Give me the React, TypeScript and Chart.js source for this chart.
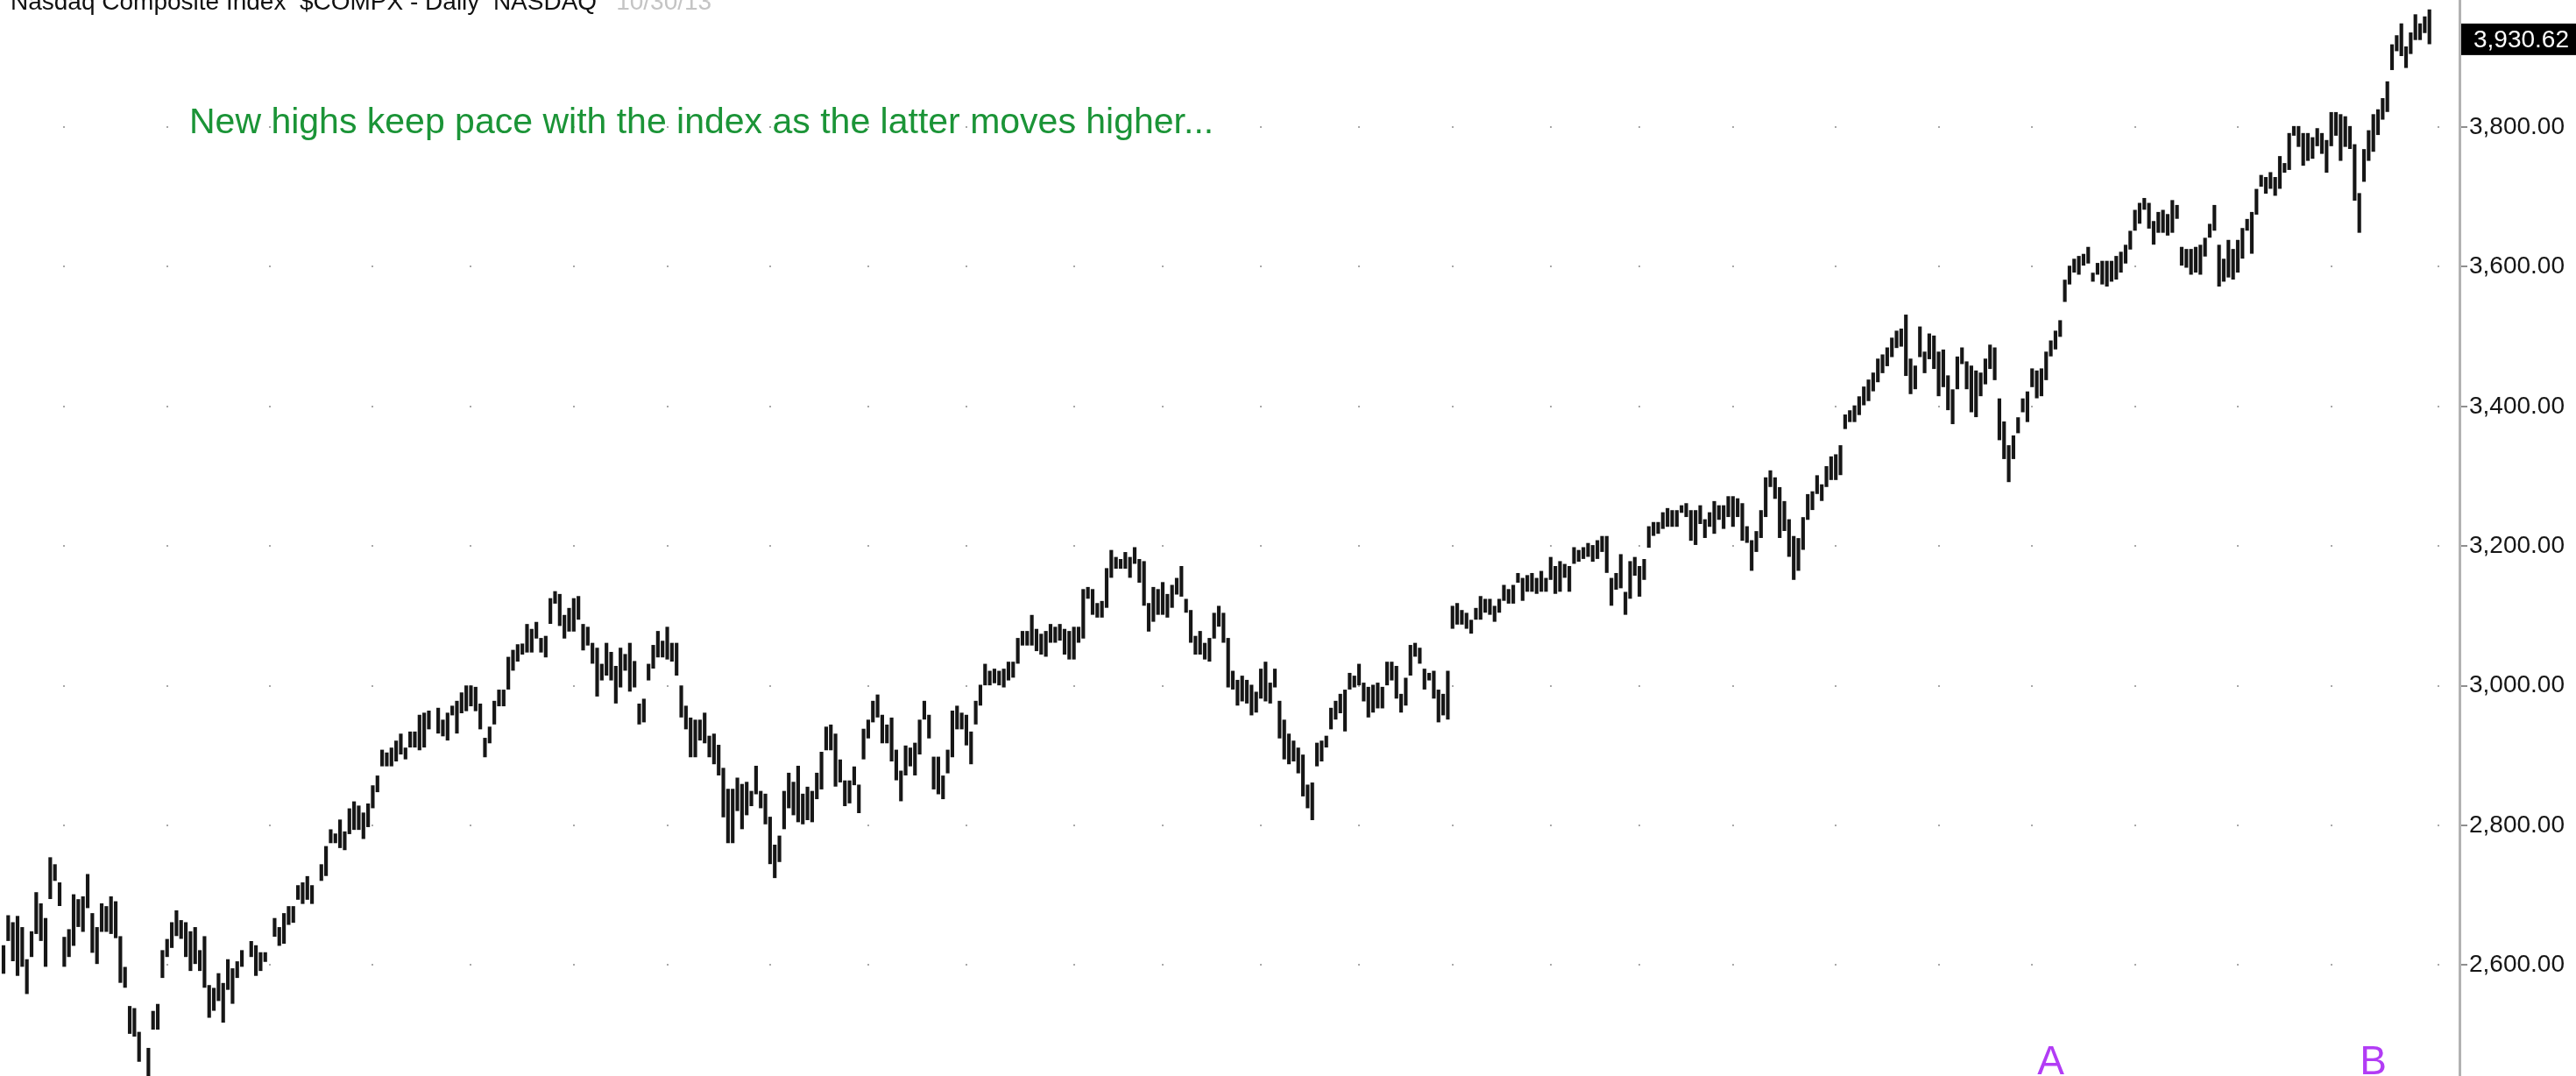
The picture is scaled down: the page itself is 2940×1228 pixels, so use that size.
import React, { useEffect, useRef } from 'react';
import { Chart, registerables } from 'chart.js';

Chart.register(...registerables);

// Daily high-low bars, one slot per trading day (null = empty slot in the reference)
const barLow: (number | null)[] = [
  2588, 2635, 2606, 2585, 2598, 2559, 2612, 2645, 2635, 2598,
  2695, 2721, 2685, 2598, 2612, 2628, 2655, 2648, 2682, 2618,
  2602, 2648, 2648, 2645, 2639, 2575, 2568, 2502, 2498, 2462,
  null, 2430, 2508, 2508, 2582, 2612, 2625, 2642, 2638, 2612,
  2592, 2602, 2592, 2568, 2525, 2535, 2549, 2518, 2565, 2545,
  2582, 2598, null, 2612, 2585, 2592, 2605, null, 2641, 2628,
  2631, 2658, 2661, 2694, 2688, 2694, 2688, null, 2721, 2728,
  2775, 2775, 2768, 2765, 2788, 2794, 2794, 2781, 2798, 2825,
  2848, 2885, 2885, 2885, 2892, 2902, 2895, 2912, 2912, 2908,
  2912, 2938, null, 2932, 2928, 2922, 2958, 2932, 2961, 2964,
  2971, 2964, 2938, 2898, 2918, 2945, 2971, 2971, 2995, 3022,
  3035, 3045, 3048, 3048, 3068, 3048, 3041, 3089, 3118, 3086,
  3068, 3078, 3078, 3095, 3051, 3058, 3032, 2985, 3008, 3015,
  3008, 2975, 2998, 3022, 2992, 2998, 2945, 2948, 3008, 3025,
  3041, 3041, 3038, 3035, 3015, 2955, 2938, 2898, 2898, 2922,
  2918, 2898, 2888, 2872, 2812, 2775, 2775, 2821, 2795, 2815,
  2828, 2845, 2825, 2802, 2745, 2725, 2748, 2795, 2825, 2815,
  2805, 2802, 2808, 2805, 2838, 2852, 2908, 2908, 2856, 2862,
  2828, 2832, 2858, 2818, 2895, 2925, 2948, 2955, 2918, 2918,
  2892, 2865, 2835, 2872, 2885, 2872, 2902, 2952, 2925, 2852,
  2845, 2838, 2875, 2898, 2938, 2938, 2915, 2888, 2945, 2972,
  3001, 3001, 3004, 3001, 2998, 3008, 3012, 3032, 3058, 3058,
  3058, 3050, 3045, 3042, 3062, 3062, 3065, 3045, 3038, 3038,
  3062, 3068, 3125, 3102, 3098, 3098, 3112, 3155, 3168, 3168,
  3168, 3155, 3175, 3148, 3115, 3078, 3092, 3102, 3102, 3098,
  3112, 3131, 3128, 3105, 3062, 3045, 3045, 3038, 3035, 3068,
  3085, 3062, 2998, 2995, 2972, 2978, 2975, 2958, 2962, 2982,
  2978, 2975, 2998, 2925, 2895, 2888, 2892, 2875, 2842, 2825,
  2808, 2885, 2892, 2912, 2938, 2952, 2961, 2935, 2995, 2998,
  3001, 2978, 2955, 2962, 2968, 2968, 3001, 3008, 2982, 2962,
  2972, 3015, 3042, 3032, 2995, 3008, 2982, 2948, 2958, 2952,
  3082, 3088, 3088, 3082, 3075, 3095, 3095, 3105, 3102, 3092,
  3105, 3122, 3118, 3118, 3148, 3122, 3135, 3135, 3132, 3135,
  3135, 3152, 3132, 3135, 3155, 3135, 3175, 3178, 3182, 3185,
  3178, 3182, 3192, 3162, 3115, 3138, 3140, 3102, 3125, 3158,
  3128, 3152, 3198, 3215, 3218, 3225, 3228, 3228, 3228, 3248,
  3242, 3208, 3202, 3232, 3212, 3228, 3218, 3238, 3225, 3242,
  3228, 3242, 3208, 3205, 3165, 3192, 3212, 3242, 3285, 3268,
  3212, 3222, 3185, 3152, 3165, 3195, 3238, 3252, 3275, 3265,
  3285, 3295, 3295, 3302, 3368, 3378, 3378, 3388, 3402, 3408,
  3422, 3435, 3448, 3458, 3471, 3484, 3486, 3444, 3418, 3425,
  3471, 3448, 3468, 3454, 3415, 3428, 3395, 3375, 3425, 3461,
  3425, 3392, 3385, 3415, 3432, 3454, 3438, 3352, 3325, 3292,
  3325, 3362, 3392, 3378, 3428, 3412, 3415, 3438, 3472, 3482,
  3500, 3550, 3575, 3592, 3589, 3602, 3605, 3579, 3589, 3575,
  3572, 3579, 3582, 3592, 3605, 3625, 3652, 3662, 3682, 3655,
  3632, 3649, 3649, 3645, 3649, 3669, 3602, 3599, 3589, 3592,
  3589, 3615, 3642, 3652, 3572, 3579, 3585, 3582, 3592, 3612,
  3652, 3619, 3675, 3715, 3705, 3712, 3702, 3712, 3735, 3739,
  3788, 3772, 3745, 3752, 3755, 3773, 3762, 3735, 3773, 3788,
  3752, 3772, 3769, 3695, 3649, 3722, 3752, 3765, 3789, 3811,
  3822, 3882, 3909, 3902, 3885, 3905, 3925, 3925, 3935, 3919,
];

const barHigh: (number | null)[] = [
  2628, 2671, 2661, 2670, 2654, 2608, 2648, 2704, 2688, 2667,
  2754, 2744, 2718, 2640, 2651, 2701, 2694, 2698, 2730, 2674,
  2654, 2688, 2684, 2698, 2691, 2641, 2597, 2541, 2538, 2504,
  null, 2481, 2534, 2544, 2621, 2637, 2661, 2678, 2664, 2661,
  2648, 2654, 2621, 2641, 2571, 2567, 2588, 2574, 2608, 2595,
  2605, 2621, null, 2634, 2628, 2618, 2618, null, 2667, 2654,
  2674, 2684, 2684, 2714, 2718, 2727, 2714, null, 2744, 2770,
  2794, 2788, 2808, 2791, 2824, 2834, 2828, 2818, 2831, 2857,
  2871, 2908, 2904, 2911, 2921, 2931, 2911, 2934, 2934, 2958,
  2961, 2964, null, 2968, 2951, 2961, 2971, 2978, 2990, 3000,
  3000, 2998, 2974, 2925, 2941, 2978, 2994, 2994, 3041, 3051,
  3059, 3060, 3088, 3081, 3091, 3068, 3071, 3125, 3135, 3131,
  3101, 3111, 3125, 3128, 3088, 3084, 3061, 3054, 3031, 3061,
  3048, 3028, 3054, 3045, 3061, 3035, 2974, 2981, 3031, 3058,
  3078, 3064, 3084, 3061, 3061, 3000, 2971, 2954, 2951, 2951,
  2961, 2928, 2931, 2915, 2882, 2852, 2852, 2868, 2859, 2862,
  2849, 2885, 2849, 2845, 2812, 2772, 2785, 2849, 2875, 2862,
  2885, 2845, 2855, 2849, 2875, 2905, 2941, 2944, 2931, 2894,
  2864, 2864, 2884, 2858, 2938, 2951, 2978, 2987, 2958, 2944,
  2954, 2908, 2878, 2914, 2911, 2918, 2951, 2978, 2958, 2898,
  2898, 2871, 2908, 2964, 2971, 2961, 2958, 2934, 2978, 3001,
  3031, 3021, 3024, 3021, 3024, 3034, 3034, 3068, 3078, 3078,
  3101, 3081, 3074, 3078, 3088, 3084, 3088, 3081, 3078, 3084,
  3084, 3138, 3141, 3138, 3118, 3121, 3168, 3194, 3184, 3181,
  3191, 3184, 3198, 3181, 3178, 3118, 3141, 3138, 3148, 3131,
  3144, 3154, 3171, 3124, 3108, 3071, 3078, 3061, 3068, 3104,
  3114, 3104, 3068, 3021, 3008, 3014, 3008, 3001, 2991, 3024,
  3034, 3004, 3024, 2978, 2951, 2931, 2921, 2911, 2901, 2858,
  2861, 2918, 2921, 2928, 2968, 2978, 2988, 2994, 3018, 3014,
  3031, 3004, 2998, 3001, 3004, 2998, 3034, 3034, 3028, 2988,
  3011, 3058, 3061, 3054, 3024, 3018, 3021, 2994, 2988, 3021,
  3114, 3118, 3108, 3104, 3094, 3111, 3128, 3124, 3124, 3114,
  3124, 3144, 3138, 3144, 3161, 3154, 3158, 3161, 3154, 3164,
  3154, 3184, 3171, 3178, 3174, 3171, 3198, 3194, 3198, 3204,
  3201, 3208, 3214, 3214, 3154, 3161, 3188, 3134, 3178, 3184,
  3171, 3181, 3228, 3234, 3234, 3248, 3254, 3251, 3251, 3258,
  3261, 3251, 3251, 3258, 3238, 3248, 3264, 3258, 3258, 3271,
  3271, 3268, 3261, 3228, 3208, 3221, 3251, 3298, 3308, 3298,
  3284, 3264, 3238, 3214, 3211, 3241, 3274, 3278, 3301, 3288,
  3314, 3328, 3331, 3344, 3388, 3394, 3401, 3414, 3428, 3438,
  3448, 3468, 3474, 3484, 3498, 3508, 3511, 3531, 3468, 3458,
  3514, 3478, 3504, 3501, 3478, 3481, 3444, 3424, 3471, 3484,
  3464, 3458, 3451, 3448, 3468, 3488, 3484, 3411, 3378, 3344,
  3358, 3384, 3411, 3421, 3454, 3451, 3454, 3478, 3494, 3508,
  3523, 3581, 3601, 3611, 3615, 3618, 3628, 3591, 3605, 3608,
  3608, 3608, 3615, 3621, 3631, 3651, 3681, 3691, 3698, 3691,
  3665, 3678, 3681, 3675, 3695, 3688, 3628, 3625, 3625, 3628,
  3631, 3641, 3661, 3688, 3631, 3611, 3638, 3625, 3638, 3655,
  3668, 3678, 3711, 3731, 3728, 3735, 3728, 3758, 3748, 3791,
  3801, 3801, 3791, 3791, 3785, 3798, 3791, 3781, 3821, 3821,
  3818, 3815, 3801, 3775, 3705, 3768, 3795, 3818, 3825, 3841,
  3865, 3918, 3931, 3948, 3915, 3935, 3961, 3948, 3958, 3968,
];

const yTickValues = [2600, 2800, 3000, 3200, 3400, 3600, 3800];
// slot of the first trading day of each month (vertical grid positions)
const monthGridIdx = [13, 35, 57, 79, 100, 122, 142, 164, 185, 206, 229, 248, 269, 290, 310, 331, 350, 370, 392, 414, 434, 456, 478, 498, 521];
const lastClose = 3930.62;
const titleText = 'Nasdaq Composite Index  $COMPX - Daily  NASDAQ';
const dateText = '10/30/13';
const noteText = 'New highs keep pace with the index as the latter moves higher...';
const markerLetters = ['A', 'B'];
const markerSlots = [438, 507];

const FONT = '"Liberation Sans", Arial, sans-serif';
const fmt = (v: number) =>
  v.toLocaleString('en-US', { minimumFractionDigits: 2, maximumFractionDigits: 2 });

const overlayPlugin = {
  id: 'overlay',
  beforeDatasetsDraw(chart: any) {
    const { ctx, scales } = chart;
    const x = scales.x;
    const y = scales.y;
    ctx.save();
    ctx.fillStyle = '#a8a8a8';
    for (const g of monthGridIdx) {
      for (const v of yTickValues) {
        const px = Math.round(x.getPixelForValue(g));
        const py = Math.round(y.getPixelForValue(v));
        ctx.fillRect(px - 1, py - 1, 2, 2);
      }
    }
    ctx.restore();
  },
  afterDraw(chart: any) {
    const { ctx, scales, chartArea, width } = chart;
    const x = scales.x;
    const y = scales.y;
    ctx.save();
    // title (partly cut at the top edge)
    ctx.font = `28px ${FONT}`;
    ctx.textAlign = 'left';
    ctx.textBaseline = 'alphabetic';
    ctx.fillStyle = '#111111';
    ctx.fillText(titleText, 12, 11);
    const tw = ctx.measureText(titleText).width;
    ctx.fillStyle = '#c4c4c4';
    ctx.fillText(dateText, 12 + tw + 22, 11);
    // annotation
    ctx.font = `41px ${FONT}`;
    ctx.fillStyle = '#1b9437';
    ctx.fillText(noteText, 216, 152);
    // markers
    ctx.font = `46px ${FONT}`;
    ctx.fillStyle = '#b23cf5';
    ctx.textAlign = 'center';
    markerLetters.forEach((m, k) => {
      ctx.fillText(m, x.getPixelForValue(markerSlots[k]), 1226);
    });
    // last price box
    const py = y.getPixelForValue(lastClose) + 4;
    ctx.fillStyle = '#000000';
    ctx.fillRect(chartArea.right + 2, py - 18, width - chartArea.right - 2, 36);
    ctx.fillStyle = '#ffffff';
    ctx.font = `28px ${FONT}`;
    ctx.textAlign = 'left';
    ctx.textBaseline = 'middle';
    ctx.fillText(fmt(lastClose), chartArea.right + 16, py + 1);
    ctx.restore();
  },
};

export default function App() {
  const ref = useRef<HTMLCanvasElement | null>(null);
  useEffect(() => {
    if (!ref.current) return;
    const points: { x: number; y: [number, number] }[] = [];
    barLow.forEach((lo, i) => {
      const hi = barHigh[i];
      if (lo != null && hi != null) points.push({ x: i, y: [lo, hi] });
    });
    const chart = new Chart(ref.current, {
      type: 'bar',
      data: {
        datasets: [
          {
            label: '$COMPX',
            data: points as any,
            backgroundColor: '#161616',
            borderWidth: 0,
            barThickness: 3.5,
          } as any,
        ],
      },
      options: {
        animation: false,
        responsive: false,
        devicePixelRatio: 1,
        layout: { padding: 0 },
        plugins: { legend: { display: false }, tooltip: { enabled: false }, title: { display: false } },
        scales: {
          x: {
            type: 'linear',
            display: false,
            min: -0.75,
            max: 525.43,
            offset: false,
            grid: { display: false },
          },
          y: {
            type: 'linear',
            position: 'right',
            min: 2441.2,
            max: 3981.9,
            afterBuildTicks: (s: any) => {
              s.ticks = yTickValues.map((v) => ({ value: v }));
            },
            afterFit: (s: any) => {
              s.width = 133;
              s.paddingTop = 0;
              s.paddingBottom = 0;
            },
            ticks: {
              callback: (v: any) => fmt(Number(v)),
              color: '#151515',
              font: { family: FONT, size: 28 },
              padding: 2,
              autoSkip: false,
            },
            grid: {
              display: true,
              drawOnChartArea: false,
              drawTicks: true,
              tickLength: 9,
              color: '#8e8e8e',
              lineWidth: 2,
            },
            border: { display: true, color: '#b2b2b2', width: 3 },
          },
        },
      },
      plugins: [overlayPlugin],
    });
    return () => chart.destroy();
  }, []);
  return (
    <div style={{ position: 'fixed', left: 0, top: 0, width: 2940, height: 1228, background: '#ffffff' }}>
      <canvas ref={ref} width={2940} height={1228} style={{ display: 'block' }} />
    </div>
  );
}
